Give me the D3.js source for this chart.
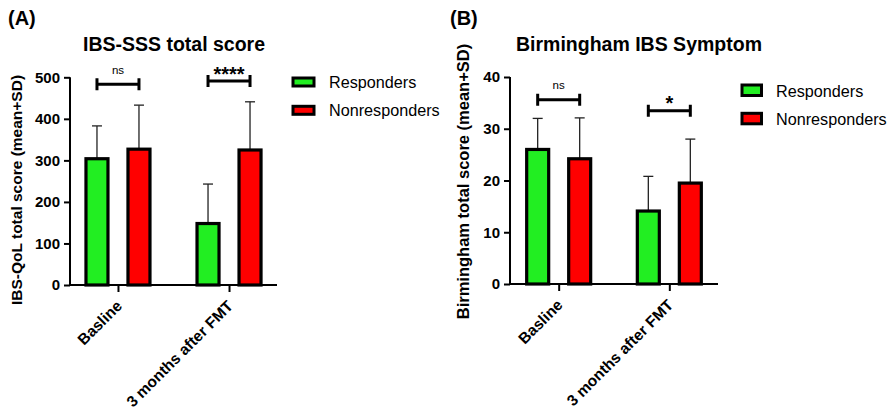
<!DOCTYPE html>
<html><head><meta charset="utf-8">
<script src="https://cdn.jsdelivr.net/npm/d3@7"></script>
<style>
body{margin:0;background:#fff;}
svg{display:block;font-family:"Liberation Sans",Arial,sans-serif;}
</style></head>
<body>
<svg id="chart" width="890" height="416"></svg>
<script>
// ---- data ----
const categories = ["Basline", "3 months after FMT"];
const series = ["Responders", "Nonresponders"];
const seriesColors = ["#22ee22", "#ff0000"];

// Panel A: IBS-SSS
const sssRespMean = [304, 148];
const sssRespSD   = [79, 95];
const sssNonMean  = [327, 325];
const sssNonSD    = [106, 116];
const sssTicks    = [0, 100, 200, 300, 400, 500];
const sssSigLabels = ["ns", "****"];
const sssSigLevel  = [483, 491];

// Panel B: Birmingham
const birmRespMean = [26.0, 14.1];
const birmRespSD   = [6.0, 6.7];
const birmNonMean  = [24.2, 19.5];
const birmNonSD    = [7.9, 8.5];
const birmTicks    = [0, 10, 20, 30, 40];
const birmSigLabels = ["ns", "*"];
const birmSigLevel  = [35.6, 33.5];

const svg = d3.select("#chart");

function panel(cfg) {
  const g = svg.append("g");
  const y = d3.scaleLinear().domain([0, cfg.ymax]).range([cfg.y0, cfg.y1]);
  const x0 = d3.scalePoint().domain(categories).range([cfg.x0, cfg.x1]).padding(cfg.pad);
  const x1 = d3.scalePoint().domain(series).range([-21, 21]);
  const barW = 22;

  const rows = [];
  categories.forEach((c, i) => {
    rows.push({cat: c, s: series[0], m: cfg.respMean[i], sd: cfg.respSD[i], col: seriesColors[0]});
    rows.push({cat: c, s: series[1], m: cfg.nonMean[i], sd: cfg.nonSD[i], col: seriesColors[1]});
  });

  // error bars (upper only)
  rows.forEach(d => {
    const cx = x0(d.cat) + x1(d.s);
    g.append("line").attr("x1", cx).attr("x2", cx)
      .attr("y1", y(d.m)).attr("y2", y(d.m + d.sd))
      .attr("stroke", "#222").attr("stroke-width", 1.3);
    g.append("line").attr("x1", cx - 5).attr("x2", cx + 5)
      .attr("y1", y(d.m + d.sd)).attr("y2", y(d.m + d.sd))
      .attr("stroke", "#222").attr("stroke-width", 1.3);
  });

  // bars
  g.selectAll("rect.bar").data(rows).join("rect").attr("class", "bar")
    .attr("x", d => x0(d.cat) + x1(d.s) - barW / 2)
    .attr("width", barW)
    .attr("y", d => y(d.m))
    .attr("height", d => y(0) - y(d.m))
    .attr("fill", d => d.col)
    .attr("stroke", "#000").attr("stroke-width", 3.2);

  // y axis
  const ya = g.append("g").attr("transform", `translate(${cfg.x0},0)`)
    .call(d3.axisLeft(y).tickValues(cfg.ticks).tickSize(6).tickPadding(4).tickFormat(d3.format("d")));
  ya.select(".domain").attr("stroke", "#000").attr("stroke-width", 2).attr("d", `M0,${cfg.y0}V${cfg.y1}`);
  ya.selectAll(".tick line").attr("stroke", "#000").attr("stroke-width", 2);
  ya.selectAll(".tick text").attr("font-size", 15).attr("font-weight", "bold").attr("fill", "#000")
    .attr("font-family", '"Liberation Sans",Arial,sans-serif');

  // x axis
  const xa = g.append("g").attr("transform", `translate(0,${cfg.y0})`)
    .call(d3.axisBottom(x0).tickSize(7).tickFormat(""));
  xa.select(".domain").attr("stroke", "#000").attr("stroke-width", 2).attr("d", `M${cfg.x0},0H${cfg.x1}`);
  xa.selectAll(".tick line").attr("stroke", "#000").attr("stroke-width", 2);
  categories.forEach(c => {
    g.append("text")
      .attr("transform", `translate(${x0(c) + 5},${cfg.y0 + 22}) rotate(-45)`)
      .attr("text-anchor", "end")
      .attr("font-size", 15.5).attr("font-weight", "bold").attr("fill", "#000")
      .text(c);
  });

  // significance brackets
  categories.forEach((c, i) => {
    const xa_ = x0(c) + x1(series[0]);
    const xb_ = x0(c) + x1(series[1]);
    const yy = y(cfg.sigLevel[i]);
    g.append("path").attr("d", `M${xa_},${yy}H${xb_}M${xa_},${yy - 6}V${yy + 6}M${xb_},${yy - 6}V${yy + 6}`)
      .attr("stroke", "#000").attr("stroke-width", 3).attr("fill", "none");
    const lab = cfg.sigLabels[i];
    const isNs = lab === "ns";
    g.append("text").attr("x", (xa_ + xb_) / 2).attr("y", isNs ? yy - 10.5 : yy - 0.5)
      .attr("text-anchor", "middle")
      .attr("font-size", isNs ? 11.5 : 20).attr("font-weight", isNs ? "normal" : "bold")
      .attr("fill", "#000").text(lab);
  });

  // titles
  g.append("text").attr("x", cfg.tag[0]).attr("y", cfg.tag[1])
    .attr("font-size", 20).attr("font-weight", "bold").text(cfg.tagText);
  g.append("text").attr("x", cfg.title[0]).attr("y", cfg.title[1]).attr("text-anchor", "middle")
    .attr("font-size", 19.5).attr("font-weight", "bold").text(cfg.titleText);
  g.append("text").attr("transform", `translate(${cfg.ylab[0]},${cfg.ylab[1]}) rotate(-90)`)
    .attr("text-anchor", "middle").attr("font-size", cfg.ylabSize).attr("font-weight", "bold").text(cfg.ylabText);

  // legend
  series.forEach((s, i) => {
    const ly = cfg.leg[1] + i * 28.3;
    g.append("rect").attr("x", cfg.leg[0]).attr("y", ly).attr("width", cfg.legW).attr("height", cfg.legH)
      .attr("fill", seriesColors[i]).attr("stroke", "#000").attr("stroke-width", 3);
    g.append("text").attr("x", cfg.leg[0] + cfg.legText).attr("y", ly + cfg.legH + 1.5)
      .attr("font-size", 16.2).attr("fill", "#000").text(s);
  });
}

panel({
  x0: 70, x1: 277, pad: 0.432, y0: 285, y1: 77.3, ymax: 500, ticks: sssTicks,
  respMean: sssRespMean, respSD: sssRespSD, nonMean: sssNonMean, nonSD: sssNonSD,
  sigLabels: sssSigLabels, sigLevel: sssSigLevel,
  tag: [8, 25], tagText: "(A)",
  title: [174, 50.7], titleText: "IBS-SSS total score",
  ylab: [22, 190], ylabSize: 15.5, ylabText: "IBS-QoL total score (mean+SD)",
  leg: [293, 78], legW: 21, legH: 8, legText: 36
});

panel({
  x0: 510, x1: 718, pad: 0.44, y0: 284, y1: 77, ymax: 40, ticks: birmTicks,
  respMean: birmRespMean, respSD: birmRespSD, nonMean: birmNonMean, nonSD: birmNonSD,
  sigLabels: birmSigLabels, sigLevel: birmSigLevel,
  tag: [450, 25], tagText: "(B)",
  title: [639, 50.7], titleText: "Birmingham IBS Symptom",
  ylab: [469, 181.5], ylabSize: 16.5, ylabText: "Birmingham total score (mean+SD)",
  leg: [742, 85], legW: 19.5, legH: 10.5, legText: 34
});
</script>
</body></html>
